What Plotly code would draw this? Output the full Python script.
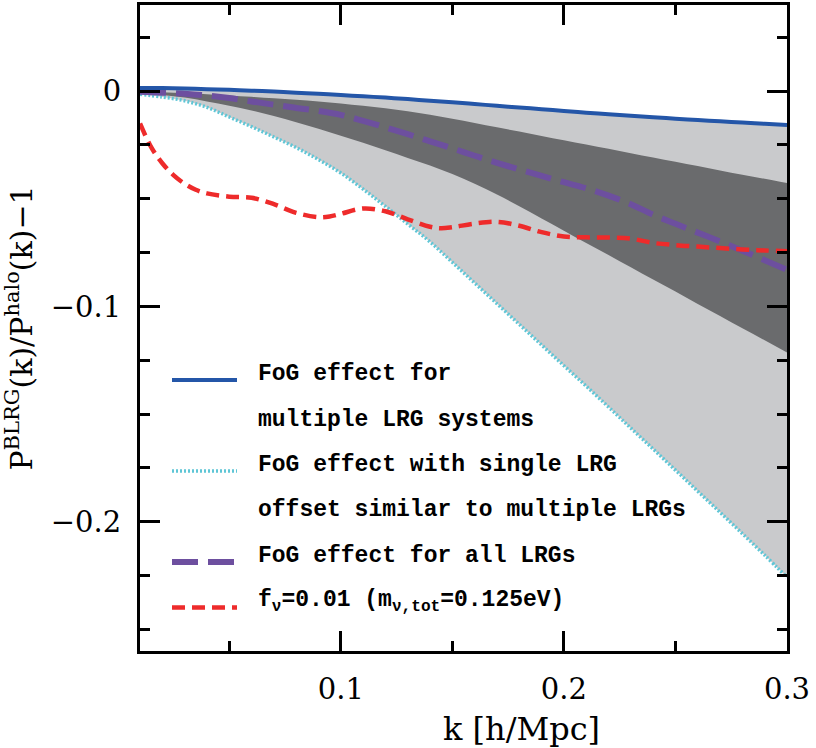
import plotly.graph_objects as go

# ---------------- data ----------------
k = [0.01, 0.02, 0.03, 0.04, 0.05, 0.06, 0.07, 0.08, 0.09, 0.10,
     0.11, 0.12, 0.13, 0.14, 0.15, 0.16, 0.17, 0.18, 0.19, 0.20,
     0.21, 0.22, 0.23, 0.24, 0.25, 0.26, 0.27, 0.28, 0.29, 0.30]

fog_multiple = [0.0015, 0.0014, 0.0012, 0.0009, 0.0006, 0.0002, -0.0002, -0.0007, -0.0012, -0.0018,
                -0.0024, -0.0030, -0.0037, -0.0045, -0.0052, -0.0060, -0.0068, -0.0076, -0.0084, -0.0092,
                -0.0100, -0.0107, -0.0114, -0.0121, -0.0128, -0.0134, -0.0140, -0.0146, -0.0152, -0.0157]

fog_single = [-0.0015, -0.0027, -0.0045, -0.0075, -0.0120, -0.0165, -0.0213, -0.0262, -0.0318, -0.0380,
              -0.0455, -0.0535, -0.0617, -0.0700, -0.0795, -0.0891, -0.0987, -0.1083, -0.1179, -0.1275,
              -0.1370, -0.1467, -0.1565, -0.1662, -0.1760, -0.1858, -0.1956, -0.2055, -0.2155, -0.2258]

dark_upper = [-0.0002, -0.0005, -0.0009, -0.0014, -0.0020, -0.0026, -0.0033, -0.0040, -0.0048, -0.0057,
              -0.0068, -0.0080, -0.0094, -0.0110, -0.0128, -0.0148, -0.0168, -0.0188, -0.0208, -0.0228,
              -0.0248, -0.0268, -0.0288, -0.0308, -0.0328, -0.0348, -0.0368, -0.0388, -0.0407, -0.0427]

dark_lower = [-0.0010, -0.0018, -0.0030, -0.0048, -0.0068, -0.0090, -0.0116, -0.0145, -0.0175, -0.0207,
              -0.0240, -0.0275, -0.0310, -0.0345, -0.0385, -0.0430, -0.0480, -0.0535, -0.0592, -0.0648,
              -0.0705, -0.0761, -0.0818, -0.0875, -0.0931, -0.0988, -0.1044, -0.1101, -0.1157, -0.1214]

fog_all = [-0.0003, -0.0007, -0.0012, -0.0020, -0.0032, -0.0048, -0.0063, -0.0078, -0.0092, -0.0110,
           -0.0138, -0.0168, -0.0200, -0.0233, -0.0266, -0.0300, -0.0333, -0.0364, -0.0394, -0.0423,
           -0.0451, -0.0485, -0.0525, -0.0574, -0.0616, -0.0657, -0.0698, -0.0741, -0.0785, -0.0830]

k_nu = [0.01, 0.015, 0.02, 0.025, 0.03, 0.035, 0.04, 0.05, 0.06, 0.07, 0.08, 0.09, 0.095,
        0.10, 0.11, 0.12, 0.13, 0.14, 0.145, 0.15, 0.16, 0.17, 0.18, 0.19, 0.20,
        0.21, 0.22, 0.23, 0.24, 0.25, 0.26, 0.27, 0.28, 0.29, 0.30]
nu_effect = [-0.0150, -0.0260, -0.0335, -0.0390, -0.0430, -0.0458, -0.0475, -0.0490, -0.0495, -0.0525,
             -0.0565, -0.0585, -0.0582, -0.0570, -0.0545, -0.0558, -0.0595, -0.0630, -0.0637, -0.0632,
             -0.0615, -0.0607, -0.0625, -0.0655, -0.0675, -0.0679, -0.0680, -0.0685, -0.0705, -0.0715,
             -0.0722, -0.0729, -0.0735, -0.0740, -0.0743]

x_ticks = [0.1, 0.2, 0.3]
x_ticklabels = ["0.1", "0.2", "0.3"]
y_ticks = [0.0, -0.1, -0.2]
y_ticklabels = ["0", "\u22120.1", "\u22120.2"]
x_title = "k [h/Mpc]"
y_title = "P<sup>BLRG</sup>(k)/P<sup>halo</sup>(k)\u22121"

legend_labels = [
    ["FoG effect for", "multiple LRG systems"],
    ["FoG effect with single LRG", "offset similar to multiple LRGs"],
    ["FoG effect for all LRGs"],
    ["f<sub>\u03bd</sub>=0.01 (m<sub>\u03bd,tot</sub>=0.125eV)"],
]

# ---------------- style ----------------
FONT = "DejaVu Serif"
LEG_FONT = "Liberation Mono"
C_BLUE = "#2456a8"
C_CYAN = "#5fc6d6"
C_PURPLE = "#6d4f9f"
C_RED = "#ee2b2b"
C_LIGHT = "#c9cacc"
C_DARK = "#6a6b6d"

fig = go.Figure()

# light band: between single-LRG FoG and multiple-LRG FoG
fig.add_trace(go.Scatter(x=k, y=fog_single, mode="lines", line=dict(width=0, shape="spline"),
                         showlegend=False, hoverinfo="skip"))
fig.add_trace(go.Scatter(x=k, y=fog_multiple, mode="lines", line=dict(width=0, shape="spline"),
                         fill="tonexty", fillcolor=C_LIGHT, showlegend=False, hoverinfo="skip"))
# dark band
fig.add_trace(go.Scatter(x=k, y=dark_lower, mode="lines", line=dict(width=0, shape="spline"),
                         showlegend=False, hoverinfo="skip"))
fig.add_trace(go.Scatter(x=k, y=dark_upper, mode="lines", line=dict(width=0, shape="spline"),
                         fill="tonexty", fillcolor=C_DARK, showlegend=False, hoverinfo="skip"))

DASH_CYAN = "2px,2px"
DASH_PURPLE = "26px,10px"
DASH_RED = "13px,7px"

fig.add_trace(go.Scatter(x=k, y=fog_single, mode="lines",
                         line=dict(color=C_CYAN, width=3.5, dash=DASH_CYAN, shape="spline"),
                         showlegend=False))
fig.add_trace(go.Scatter(x=k, y=fog_all, mode="lines",
                         line=dict(color=C_PURPLE, width=6, dash=DASH_PURPLE, shape="spline"),
                         showlegend=False))
fig.add_trace(go.Scatter(x=k_nu, y=nu_effect, mode="lines",
                         line=dict(color=C_RED, width=4.5, dash=DASH_RED, shape="spline"),
                         showlegend=False))
fig.add_trace(go.Scatter(x=k, y=fog_multiple, mode="lines",
                         line=dict(color=C_BLUE, width=4, shape="spline"),
                         showlegend=False))

# ---------------- manual legend ----------------
W, H = 816, 748
ML, MR, MT, MB = 140, 29, 5, 97
PW, PH = W - ML - MR, H - MT - MB

def px(xp):
    return (xp - ML) / PW

def py(yp):
    return (H - MB - yp) / PH

legend_styles = [
    dict(color=C_BLUE, width=4, dash="solid"),
    dict(color=C_CYAN, width=3.5, dash=DASH_CYAN),
    dict(color=C_PURPLE, width=6, dash=DASH_PURPLE),
    dict(color=C_RED, width=4.5, dash=DASH_RED),
]
row_y = 374
row_step = 45.5
for style, lines in zip(legend_styles, legend_labels):
    fig.add_shape(type="line", xref="paper", yref="paper",
                  x0=px(172), x1=px(237), y0=py(row_y + 6), y1=py(row_y + 6),
                  line=style)
    for ln in lines:
        fig.add_annotation(x=px(256), y=py(row_y), xref="paper", yref="paper",
                           text="<b>" + ln + "</b>", showarrow=False, xanchor="left", yanchor="middle",
                           font=dict(family=LEG_FONT, size=23, color="black"))
        row_y += row_step

# x-axis title (placed as in the reference, right of centre)
fig.add_annotation(x=px(521), y=py(729), xref="paper", yref="paper", text=x_title,
                   showarrow=False, xanchor="center", yanchor="middle",
                   font=dict(family=FONT, size=32, color="black"))

axis_common = dict(showline=True, linecolor="black", linewidth=3, mirror="allticks",
                   ticks="inside", ticklen=20, tickwidth=2.5, tickcolor="black",
                   showgrid=False, zeroline=False,
                   tickfont=dict(family=FONT, size=29, color="black"))

fig.update_xaxes(range=[0.01, 0.3], tickvals=x_ticks, ticktext=x_ticklabels,
                 minor=dict(dtick=0.05, tick0=0, ticks="inside", ticklen=10, tickwidth=2.5,
                            tickcolor="black", showgrid=False),
                 ticklabelstandoff=10,
                 **axis_common)
fig.update_yaxes(range=[-0.26, 0.04], tickvals=y_ticks, ticktext=y_ticklabels,
                 minor=dict(dtick=0.025, tick0=0, ticks="inside", ticklen=10, tickwidth=2.5,
                            tickcolor="black", showgrid=False),
                 ticklabelstandoff=10,
                 title=dict(text=y_title, font=dict(family=FONT, size=30, color="black"), standoff=12),
                 **axis_common)

fig.update_layout(width=W, height=H, margin=dict(l=ML, r=MR, t=MT, b=MB, autoexpand=False),
                  plot_bgcolor="white", paper_bgcolor="white", showlegend=False)

fig.write_html("out.html")
